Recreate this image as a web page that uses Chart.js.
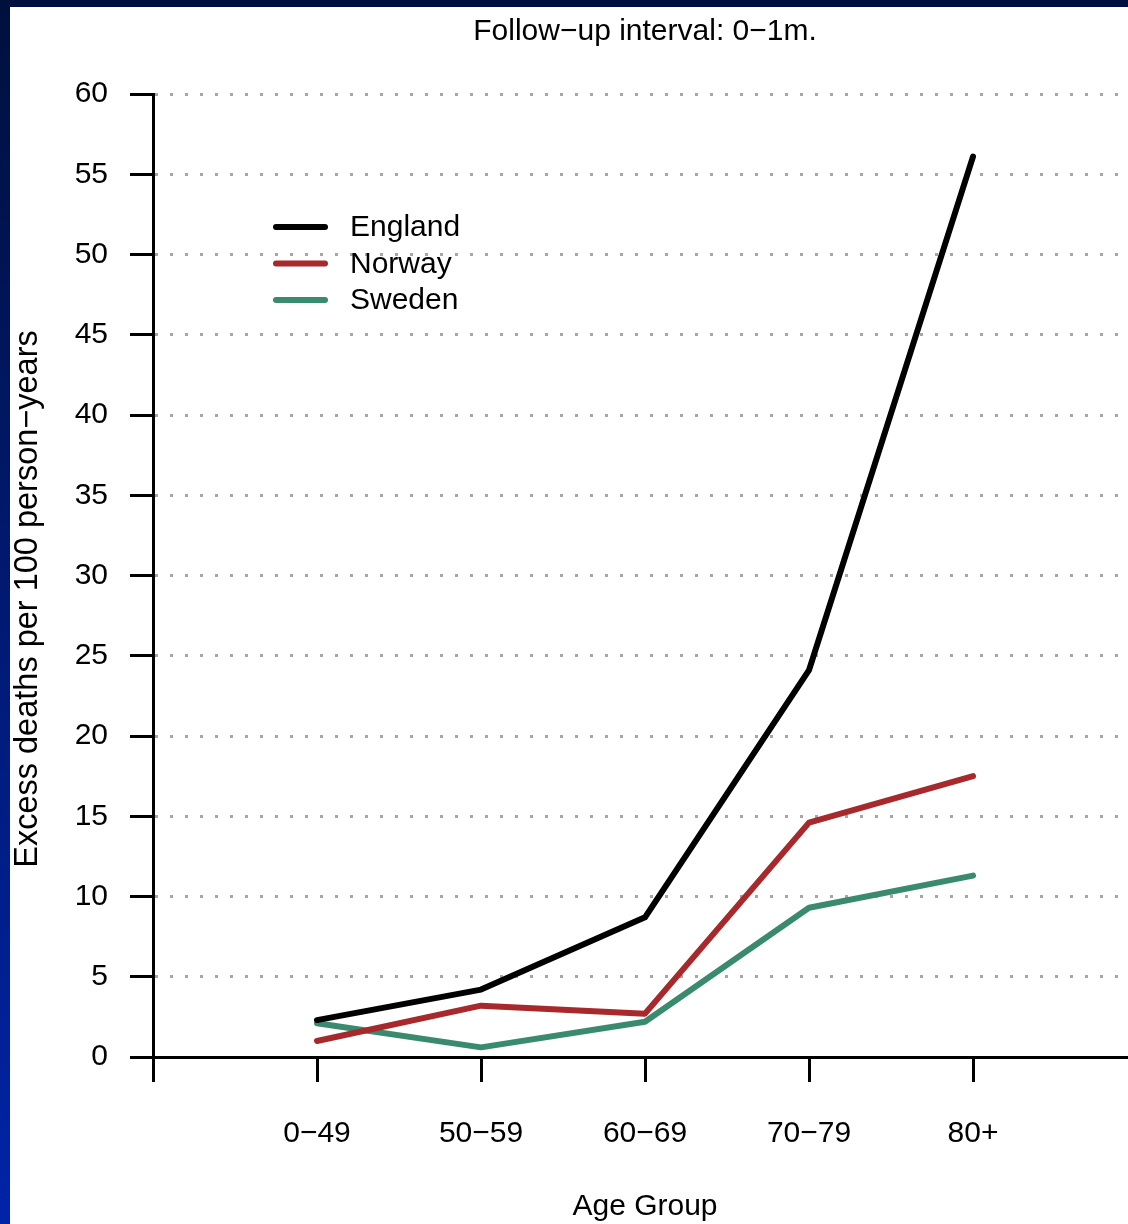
<!DOCTYPE html>
<html>
<head>
<meta charset="utf-8">
<script src="https://cdn.jsdelivr.net/npm/chart.js@4.4.1/dist/chart.umd.min.js"></script>
<style>
  html, body { margin: 0; padding: 0; }
  body { width: 1128px; height: 1224px; position: relative; overflow: hidden;
         background: linear-gradient(#00103d, #0024a8); }
  #topbar { position: absolute; left: 0; top: 0; width: 1128px; height: 7px; background: #00103d; }
  #wrap { position: absolute; left: 10px; top: 7px; width: 1118px; height: 1217px; background: #fff; }
</style>
</head>
<body>
<div id="topbar"></div>
<div id="wrap"><canvas id="myChart" width="1118" height="1217"></canvas></div>
<script>
// data
const ageGroups = ["0\u221249", "50\u221259", "60\u221269", "70\u221279", "80+"]
const england = [2.3, 4.2, 8.7, 24.1, 56.1]
const norway = [1.0, 3.2, 2.7, 14.6, 17.5]
const sweden = [2.1, 0.6, 2.2, 9.3, 11.3]
const yTicks = [0, 5, 10, 15, 20, 25, 30, 35, 40, 45, 50, 55, 60]

const font = "'Liberation Sans', Arial, sans-serif"
const titleText = 'Follow\u2212up interval: 0\u22121m.'
const xTitle = 'Age Group'
const yTitle = 'Excess deaths per 100 person\u2212years'

function pts(vals){
  return vals.map((v, i) => ({x: i + 1, y: v}))
}

// titles + legend drawn by hand so they sit where the R plot had them
const extras = {
  id: 'extras',
  afterDatasetsDraw(chart){
    const ctx = chart.ctx
    const xs = chart.scales.x
    ctx.save()
    ctx.fillStyle = '#000'
    ctx.textBaseline = 'middle'
    ctx.textAlign = 'center'

    ctx.font = "30px " + font
    ctx.fillText(titleText, xs.getPixelForValue(3), 25)
    ctx.fillText(xTitle, xs.getPixelForValue(3), 1200)

    ctx.save()
    ctx.translate(18, 592)
    ctx.rotate(-Math.PI / 2)
    ctx.font = "32.5px " + font
    ctx.fillText(yTitle, 0, 0)
    ctx.restore()

    // legend
    ctx.textAlign = 'left'
    ctx.font = "30px " + font
    chart.data.datasets.forEach((ds, i) => {
      const y = 220 + i * 36.5
      ctx.strokeStyle = ds.borderColor
      ctx.lineWidth = 6
      ctx.lineCap = 'round'
      ctx.beginPath()
      ctx.moveTo(266, y)
      ctx.lineTo(315, y)
      ctx.stroke()
      ctx.fillText(ds.label, 340, y + 1)
    })
    ctx.restore()
  }
}

const ctx = document.getElementById('myChart')
new Chart(ctx, {
  type: 'line',
  data: {
    datasets: [
      {label: 'England', data: pts(england), borderColor: '#000000'},
      {label: 'Norway', data: pts(norway), borderColor: '#a8292b'},
      {label: 'Sweden', data: pts(sweden), borderColor: '#3a8b6d'}
    ]
  },
  options: {
    responsive: false,
    animation: false,
    datasets: {
      line: { borderWidth: 6, pointRadius: 0, tension: 0, fill: false, borderJoinStyle: 'round', borderCapStyle: 'round' }
    },
    layout: { padding: { top: 87, right: 0, left: 0, bottom: 0 } },
    plugins: {
      legend: { display: false },
      tooltip: { enabled: false },
      title: { display: false }
    },
    scales: {
      x: {
        type: 'linear',
        min: 0,
        max: 5.945,
        afterFit(scale){ scale.height = 167 },
        afterBuildTicks(scale){ scale.ticks = [0, 1, 2, 3, 4, 5].map(v => ({value: v})) },
        border: { display: true, color: '#000', width: 3 },
        grid: { drawOnChartArea: false, color: '#000', tickLength: 25, tickWidth: 3, tickColor: '#000' },
        ticks: {
          color: '#000',
          padding: 34,
          maxRotation: 0,
          font: { family: font, size: 30 },
          callback: (v) => ageGroups[v - 1] || ''
        }
      },
      y: {
        min: 0,
        max: 60,
        afterFit(scale){ scale.width = 143 },
        afterBuildTicks(scale){ scale.ticks = yTicks.map(v => ({value: v})) },
        border: { display: true, color: '#000', width: 3, dash: [3, 12] },
        grid: {
          color: '#a6a6a6',
          lineWidth: 3,
          tickLength: 23,
          tickWidth: 3,
          tickColor: '#000',
          tickBorderDash: []
        },
        ticks: {
          color: '#000',
          padding: 22,
          font: { family: font, size: 30 }
        }
      }
    }
  },
  plugins: [extras]
})
</script>
</body>
</html>
